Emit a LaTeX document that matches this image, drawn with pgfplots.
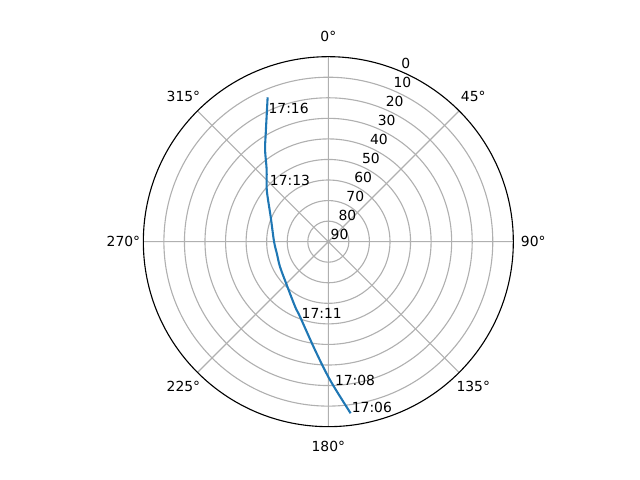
\documentclass[border=0pt]{standalone}
\usepackage{fontspec}
\setmainfont{DejaVu Sans}
\usepackage{pgfplots}
\usepackage{pgfplotstable}
\usepgfplotslibrary{polar}
\pgfplotsset{compat=1.18}
\definecolor{mplblue}{HTML}{1F77B4}
\definecolor{mplgrid}{HTML}{B0B0B0}

% satellite pass: azimuth (deg, clockwise from north), elevation (deg)
\pgfplotstableread{
az    el
172.6 5.8
179.3 22.7
187.0 36.9
200.7 51.0
207.1 54.5
223.9 60.8
242.6 63.5
256.5 64.3
270.0 63.6
293.5 59.4
310.0 50.9
319.3 44.0
325.4 35.8
330.0 29.1
337.2 13.8
}\pass

\begin{document}
\begin{tikzpicture}
\useasboundingbox (0,0) rectangle (460.8pt,345.6pt);
\begin{polaraxis}[
    at={(236.4pt,171.6pt)}, anchor=center,
    scale only axis, width=266.4pt, height=266.4pt,
    xmin=0, xmax=360, ymin=0, ymax=90,
    xtick={0,45,...,315}, ytick={10,20,...,80},
    xticklabels={}, yticklabels={},
    major tick length=0pt,
    grid=major,
    major grid style={mplgrid, line width=0.8pt},
    axis line style={black, line width=0.8pt},
    y axis line style={draw=none},
    clip=false,
  ]
  \addplot[mplblue, line width=1.5pt, no marks, smooth, tension=0.5]
    table[x expr={450-\thisrow{az}}, y expr={90-\thisrow{el}}] {\pass};

  % time marks
  \node[anchor=base west, inner sep=0.5pt] at (axis cs:277.5,84.0) {17:06};
  \node[anchor=base west, inner sep=0.5pt] at (axis cs:272.3,69.8) {17:08};
  \node[anchor=base west, inner sep=0.5pt] at (axis cs:250.2,39.6) {17:11};
  \node[anchor=base west, inner sep=0.5pt] at (axis cs:136.8,39.6) {17:13};
  \node[anchor=base west, inner sep=0.5pt] at (axis cs:115.3,69.1) {17:16};

  % azimuth labels
  \node at (axis cs:90,99.7) {0°};
  \node at (axis cs:45,99.7) {45°};
  \node at (axis cs:0,99.7) {90°};
  \node at (axis cs:315,99.7) {135°};
  \node at (axis cs:270,99.7) {180°};
  \node at (axis cs:225,99.7) {225°};
  \node at (axis cs:180,99.7) {270°};
  \node at (axis cs:135,99.7) {315°};

  % elevation labels
  \node[anchor=south west, inner sep=1.5pt] at (axis cs:67.5,90) {0};
  \node[anchor=south west, inner sep=1.5pt] at (axis cs:67.5,80) {10};
  \node[anchor=south west, inner sep=1.5pt] at (axis cs:67.5,70) {20};
  \node[anchor=south west, inner sep=1.5pt] at (axis cs:67.5,60) {30};
  \node[anchor=south west, inner sep=1.5pt] at (axis cs:67.5,50) {40};
  \node[anchor=south west, inner sep=1.5pt] at (axis cs:67.5,40) {50};
  \node[anchor=south west, inner sep=1.5pt] at (axis cs:67.5,30) {60};
  \node[anchor=south west, inner sep=1.5pt] at (axis cs:67.5,20) {70};
  \node[anchor=south west, inner sep=1.5pt] at (axis cs:67.5,10) {80};
  \node[anchor=south west, inner sep=1.5pt] at (axis cs:67.5,0) {90};
\end{polaraxis}
\end{tikzpicture}
\end{document}
